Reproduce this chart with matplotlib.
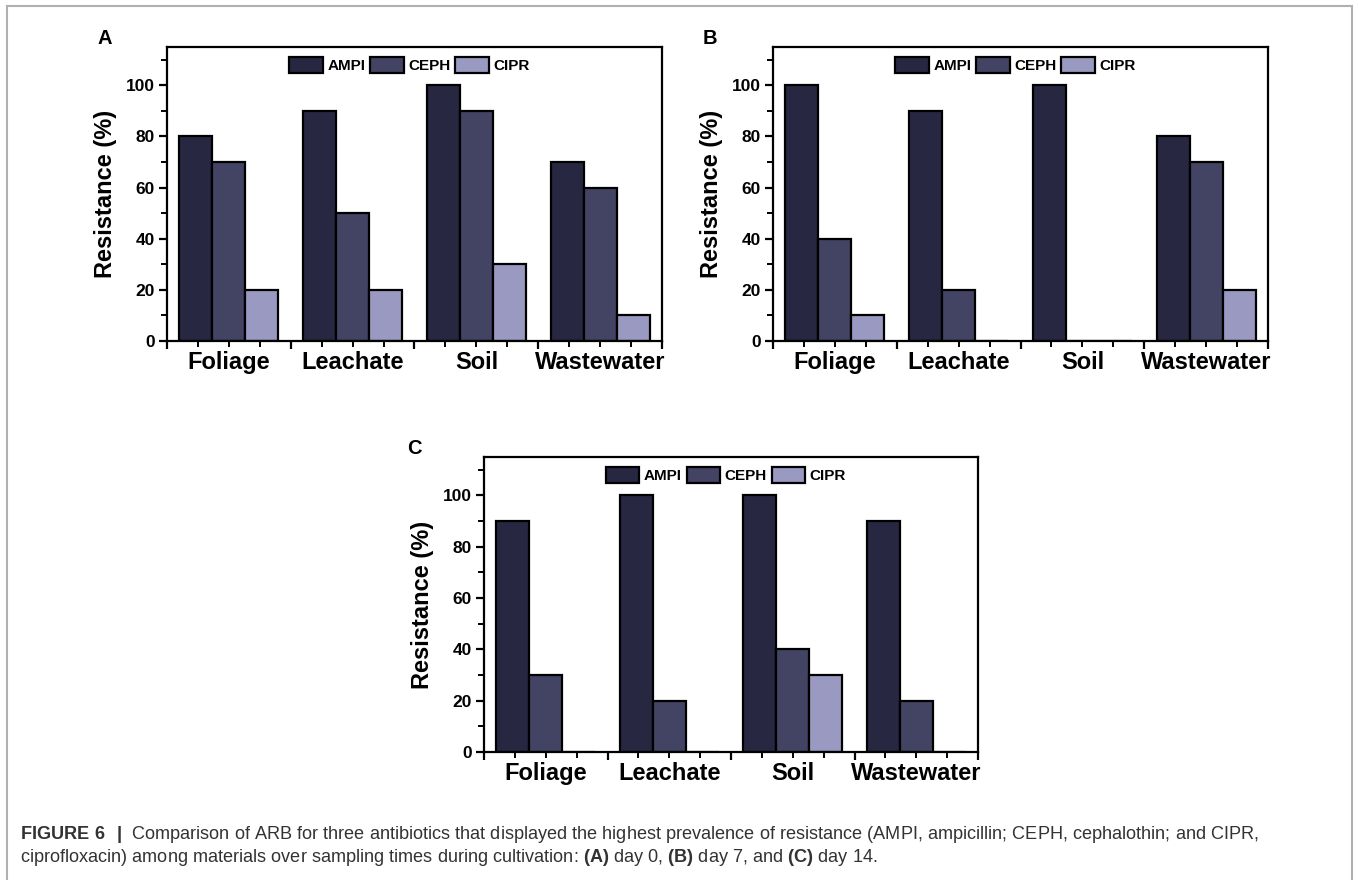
import matplotlib.pyplot as plt
from matplotlib.ticker import MultipleLocator
from matplotlib import font_manager
from matplotlib.patches import Rectangle

categories = ["Foliage", "Leachate", "Soil", "Wastewater"]
antibiotics = ["AMPI", "CEPH", "CIPR"]

# resistance (%) per panel, one list per antibiotic
day0_ampi = [80, 90, 100, 70]
day0_ceph = [70, 50, 90, 60]
day0_cipr = [20, 20, 30, 10]

day7_ampi = [100, 90, 100, 80]
day7_ceph = [40, 20, 0, 70]
day7_cipr = [10, 0, 0, 20]

day14_ampi = [90, 100, 100, 90]
day14_ceph = [30, 20, 40, 20]
day14_cipr = [0, 0, 30, 0]

colors = ["#272742", "#434363", "#9a99c2"]

plt.rcParams['font.family'] = ['Liberation Sans', 'DejaVu Sans']
plt.rcParams['mathtext.fontset'] = 'custom'
plt.rcParams['mathtext.rm'] = 'Liberation Sans'
plt.rcParams['mathtext.bf'] = 'Liberation Sans:bold'

names = [f.name for f in font_manager.fontManager.ttflist]
cap_font = 'Liberation Sans Narrow' if 'Liberation Sans Narrow' in names else 'Liberation Sans'
cap_size = 15.5 if cap_font == 'Liberation Sans Narrow' else 13.1

fig = plt.figure(figsize=(13.59, 8.8), dpi=100)

# light grey frame around the figure
fig.patches.append(Rectangle((7 / 1359, -0.05), 1345 / 1359, 1.05 - 6 / 880,
                             transform=fig.transFigure, fill=False,
                             edgecolor="#b0b0b0", linewidth=1.5))

W, H = 1359, 880
panels = [
    ("A", (167, 47, 495, 294), (97, 38), [day0_ampi, day0_ceph, day0_cipr]),
    ("B", (773, 47, 495, 294), (703, 38), [day7_ampi, day7_ceph, day7_cipr]),
    ("C", (484, 457, 494, 295), (407, 448), [day14_ampi, day14_ceph, day14_cipr]),
]

width = 0.8 / 3
for letter, (l, t, w, h), (lx, ly), series in panels:
    ax = fig.add_axes([l / W, 1 - (t + h) / H, w / W, h / H])
    for i, vals in enumerate(series):
        xs = [j + 1 + (i - 1) * width for j in range(len(categories))]
        ax.bar(xs, vals, width=width, color=colors[i], edgecolor="black",
               linewidth=1.6, label=antibiotics[i])
    ax.set_xlim(0.5, 4.5)
    ax.set_ylim(0, 115)
    ax.set_xticks([0.5, 1.5, 2.5, 3.5, 4.5])
    ax.set_xticklabels([])
    ax.xaxis.set_minor_locator(MultipleLocator(0.25))
    for j, c in enumerate(categories):
        ax.text(j + 1, -0.035, c, transform=ax.get_xaxis_transform(),
                ha="center", va="top", fontsize=17, fontweight="bold")
    ax.yaxis.set_minor_locator(MultipleLocator(10))
    ax.set_yticks([0, 20, 40, 60, 80, 100])
    ax.tick_params(axis="both", which="major", length=6, width=1.6,
                   labelsize=12.5, pad=3)
    ax.tick_params(axis="both", which="minor", length=4, width=1.4)
    for lab in ax.get_yticklabels():
        lab.set_fontweight("bold")
    for s in ax.spines.values():
        s.set_linewidth(1.6)
    ax.set_ylabel("Resistance (%)", fontsize=17, fontweight="bold", labelpad=6)
    ax.legend(loc="upper center", ncol=3, frameon=False,
              bbox_to_anchor=(0.49, 1.0), handlelength=2.2,
              handleheight=1.2, handletextpad=0.3, columnspacing=0.3,
              borderaxespad=0.25, prop={"weight": "bold", "size": 11})
    fig.text(lx / W, 1 - ly / H, letter, fontsize=14.5, fontweight="bold",
             ha="left", va="center")

fig.text(20 / W, 1 - 834 / H,
         r"$\mathbf{FIGURE\ 6\ \ |}$  Comparison of ARB for three antibiotics that displayed the highest prevalence of resistance (AMPI, ampicillin; CEPH, cephalothin; and CIPR,",
         fontsize=cap_size, family=cap_font, color="#333333", va="center", ha="left")
fig.text(20 / W, 1 - 857 / H,
         r"ciprofloxacin) among materials over sampling times during cultivation: $\mathbf{(A)}$ day 0, $\mathbf{(B)}$ day 7, and $\mathbf{(C)}$ day 14.",
         fontsize=cap_size, family=cap_font, color="#333333", va="center", ha="left")

fig.savefig("out.png", dpi=100)
